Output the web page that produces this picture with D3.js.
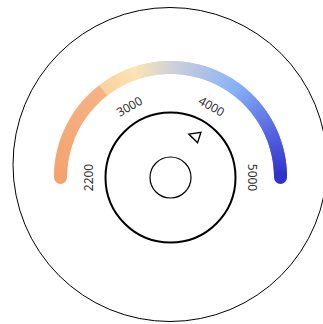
<!DOCTYPE html>
<head>
  <meta charset="utf-8">
  <script src="https://d3js.org/d3.v7.min.js"></script>
  <style>
body { margin:0; background:#fff; }
text {
	font-family: "Noto Sans", "Open Sans", sans-serif;
	font-size: 12px;
	fill: #333;
}
.ring { fill: none; stroke: #000; }
  </style>
</head>
<body>
<script>
// colour temperature ticks (K), evenly spaced around the dial
const ticks = [2200, 3000, 4000, 5000]
const current = 4000
// colour ramp along the arc
const rampValues = [2200, 2899, 2900, 3200, 3500, 4100, 4600, 5000]
const rampColors = ['#f4a36e', '#f7b384', '#fbd39f', '#fbe4b4', '#d2d2d6', '#88b2f8', '#5566e0', '#3233c8']

const W = 323, H = 324
const cx = 170.5, cy = 177.5
const arcR = 110, arcW = 13

const svg = d3.select('body').append('svg')
	.attr('width', W)
	.attr('height', H)

// outer bezel
svg.append('circle')
	.attr('class', 'ring')
	.attr('cx', 170).attr('cy', 164.5).attr('r', 157)
	.attr('stroke-width', 1)

const g = svg.append('g')
	.attr('transform', `translate(${cx},${cy})`)

// value -> angle in degrees (math convention, 180 = left, 0 = right)
const angle = d3.scaleLinear()
	.domain(ticks)
	.range(ticks.map((d, i) => 180 - i * 180 / (ticks.length - 1)))

const color = d3.scaleLinear()
	.domain(rampValues)
	.range(rampColors)
	.interpolate(d3.interpolateRgb)

const toRad = a => (90 - a) * Math.PI / 180

// gradient arc built from thin wedges
const steps = 360
const lo = ticks[0], hi = ticks[ticks.length - 1]
const seg = d3.range(steps).map(i => {
	const v0 = lo + (hi - lo) * i / steps
	const v1 = lo + (hi - lo) * (i + 1) / steps
	return { v0, v1, mid: (v0 + v1) / 2 }
})

const arc = d3.arc()
	.innerRadius(arcR - arcW / 2)
	.outerRadius(arcR + arcW / 2)

g.selectAll('.seg')
	.data(seg)
	.enter().append('path')
	.attr('class', 'seg')
	.attr('d', d => arc({ startAngle: toRad(angle(d.v0)) - 0.004, endAngle: toRad(angle(d.v1)) + 0.004 }))
	.attr('fill', d => color(d.mid))

// round caps
g.selectAll('.cap')
	.data([lo, hi])
	.enter().append('circle')
	.attr('class', 'cap')
	.attr('cx', d => arcR * Math.cos(angle(d) * Math.PI / 180))
	.attr('cy', d => -arcR * Math.sin(angle(d) * Math.PI / 180))
	.attr('r', arcW / 2)
	.attr('fill', d => color(d))

// tick labels
const labelR = 82
g.selectAll('.tick')
	.data(ticks)
	.enter().append('text')
	.attr('class', 'tick')
	.attr('text-anchor', 'middle')
	.attr('dy', '0.35em')
	.attr('transform', d => {
		const a = angle(d)
		const x = labelR * Math.cos(a * Math.PI / 180)
		const y = -labelR * Math.sin(a * Math.PI / 180)
		return `translate(${x},${y}) rotate(${90 - a})`
	})
	.text(d => d)

// inner dial rings
g.append('circle').attr('class', 'ring').attr('r', 65).attr('stroke-width', 2)
g.append('circle').attr('class', 'ring').attr('r', 20.5).attr('stroke-width', 1.2)

// current value marker
const markR = 48
const ma = angle(current)
g.append('path')
	.attr('d', 'M-6,0L5,-5.5L5,5.5Z')
	.attr('fill', 'none')
	.attr('stroke', '#000')
	.attr('stroke-width', 1.3)
	.attr('stroke-linejoin', 'miter')
	.attr('transform', `translate(${markR * Math.cos(ma * Math.PI / 180)},${-markR * Math.sin(ma * Math.PI / 180)}) rotate(${(90 - ma) * 0.6})`)
</script>
</body>
